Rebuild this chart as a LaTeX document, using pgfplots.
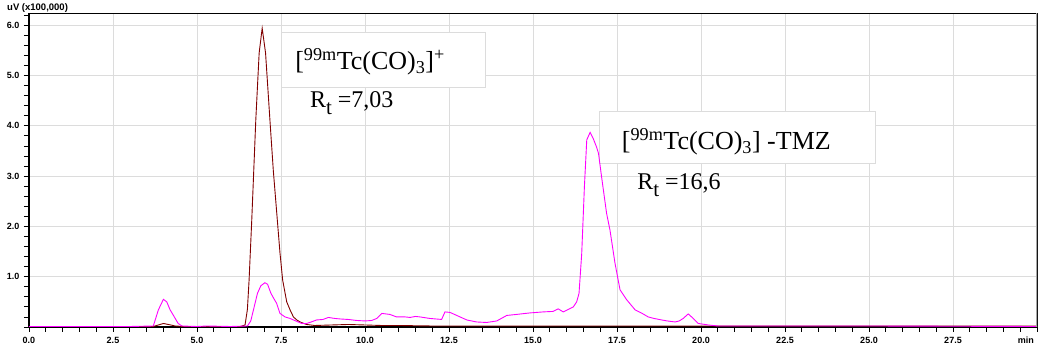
\documentclass[border=0pt]{standalone}
\usepackage{pgfplots}
\pgfplotsset{compat=1.18}
\usepackage{fontspec}
\setmainfont{Liberation Serif}
\newfontfamily\timesf{Liberation Serif}
\newfontfamily\arialf{Liberation Sans}
\definecolor{maroonc}{RGB}{128,0,0}
\definecolor{magc}{RGB}{255,0,255}
\definecolor{gridc}{RGB}{220,220,220}
\begin{document}
\begin{tikzpicture}
\begin{axis}[
  name=ax,
  at={(0pt,0pt)}, anchor=south west,
  x=33.6pt, y=50.3pt,
  xmin=0, xmax=30, ymin=0, ymax=6.24,
  axis line style={black, line width=1.2pt},
  xtick={0,2.5,...,30},
  xticklabels={0.0,2.5,5.0,7.5,10.0,12.5,15.0,17.5,20.0,22.5,25.0,27.5,{}},
  ytick={0,1,...,6},
  yticklabels={{},1.0,2.0,3.0,4.0,5.0,6.0},
  minor xtick={0.5,1,...,29.5},
  minor ytick={0.2,0.4,...,6.2},
  tick align=outside, tick pos=left,
  major tick length=5pt, minor tick length=5pt,
  every tick/.style={black, line width=0.8pt},
  xmajorgrids, ymajorgrids,
  major grid style={gridc, line width=0.8pt},
  ticklabel style={font=\arialf\bfseries\fontsize{9}{9}\selectfont},
  xticklabel style={yshift=-2pt},
  yticklabel style={xshift=-1pt},
]
\filldraw[fill=white, draw=gridc, line width=0.8pt] (axis cs:7.5,4.77) rectangle (axis cs:13.57,5.85);
\filldraw[fill=white, draw=gridc, line width=0.8pt] (axis cs:16.99,3.26) rectangle (axis cs:25.18,4.29);

\addplot[maroonc, line width=0.9pt] coordinates {
(0,0.01) (1,0.01) (2,0.01) (3,0.01) (3.7,0.01) (3.85,0.04) (4.0,0.07) (4.15,0.05) (4.35,0.02) (4.6,0.01) (5.5,0.01) (6.3,0.01) (6.43,0.04) (6.5,0.35) (6.55,0.93) (6.63,2.13) (6.75,4.12) (6.85,5.45) (6.94,5.94) (7.04,5.45) (7.17,4.12) (7.27,3.12) (7.39,2.13) (7.47,1.47) (7.55,0.93) (7.67,0.5) (7.77,0.34) (7.87,0.2) (7.97,0.14) (8.07,0.1) (8.26,0.05) (8.5,0.03) (9,0.04) (9.5,0.05) (10,0.04) (10.5,0.03) (11,0.03) (12,0.02) (13,0.02) (15,0.02) (17,0.02) (20,0.02) (25,0.02) (30,0.02)
};
\addplot[magc, line width=0.9pt] coordinates {
(0,0.01) (1,0.01) (2,0.01) (3,0.01) (3.7,0.02) (3.85,0.34) (4.0,0.55) (4.1,0.5) (4.2,0.34) (4.29,0.24) (4.44,0.07) (4.55,0.02) (5,0.01) (5.3,0.02) (6,0.01) (6.5,0.02) (6.6,0.12) (6.68,0.34) (6.8,0.67) (6.9,0.82) (7.02,0.88) (7.1,0.85) (7.2,0.67) (7.3,0.55) (7.37,0.47) (7.47,0.27) (7.62,0.2) (7.77,0.17) (7.87,0.14) (8.12,0.07) (8.26,0.07) (8.4,0.1) (8.56,0.14) (8.75,0.15) (8.91,0.19) (9.1,0.17) (9.26,0.16) (9.5,0.15) (9.75,0.13) (10.0,0.12) (10.2,0.13) (10.35,0.17) (10.5,0.27) (10.74,0.25) (10.94,0.2) (11.2,0.2) (11.34,0.19) (11.5,0.21) (11.64,0.2) (11.93,0.17) (12.28,0.15) (12.38,0.3) (12.53,0.29) (12.73,0.23) (13.03,0.14) (13.32,0.1) (13.62,0.09) (13.92,0.12) (14.22,0.23) (14.51,0.25) (14.91,0.28) (15.3,0.3) (15.6,0.31) (15.75,0.36) (15.9,0.3) (16.05,0.35) (16.2,0.4) (16.3,0.5) (16.37,0.67) (16.45,1.46) (16.53,2.79) (16.6,3.72) (16.7,3.87) (16.79,3.75) (16.89,3.58) (16.95,3.45) (17.04,2.99) (17.19,2.26) (17.29,1.93) (17.44,1.27) (17.59,0.74) (17.79,0.54) (18.04,0.34) (18.25,0.27) (18.43,0.2) (18.6,0.17) (18.83,0.14) (19.0,0.12) (19.23,0.1) (19.35,0.12) (19.47,0.17) (19.62,0.26) (19.77,0.17) (19.92,0.07) (20.22,0.04) (20.5,0.02) (22,0.02) (25,0.02) (30,0.01)
};

\node[anchor=base west, inner sep=0pt, font=\timesf\fontsize{26}{26}\selectfont] at (axis cs:7.92,5.11) {[\textsuperscript{99m}Tc(CO)\textsubscript{3}]\textsuperscript{+}};
\node[anchor=base west, inner sep=0pt, font=\timesf\fontsize{24}{24}\selectfont] at (axis cs:8.36,4.37) {R\raisebox{-7pt}{\fontsize{21}{21}\selectfont t} =7,03};
\node[anchor=base west, inner sep=0pt, font=\timesf\fontsize{26}{26}\selectfont] at (axis cs:17.64,3.53) {[\textsuperscript{99m}Tc(CO)\textsubscript{3}] -TMZ};
\node[anchor=base west, inner sep=0pt, font=\timesf\fontsize{24}{24}\selectfont] at (axis cs:18.1,2.74) {R\raisebox{-7pt}{\fontsize{21}{21}\selectfont t} =16,6};
\draw[gray!70, line width=1.2pt] (rel axis cs:1,0) -- (rel axis cs:1,1);
\end{axis}
\node[anchor=base east, inner sep=0pt, font=\arialf\bfseries\fontsize{9}{9}\selectfont] at ([xshift=-3pt, yshift=-17pt]ax.south east) {min};
\node[anchor=base west, inner sep=0pt, font=\arialf\bfseries\fontsize{9.5}{9.5}\selectfont] at ([xshift=-22pt, yshift=3pt]ax.north west) {uV (x100,000)};
\pgfresetboundingbox
\path (-29pt,-24pt) rectangle (1016pt,327pt);
\end{tikzpicture}
\end{document}
